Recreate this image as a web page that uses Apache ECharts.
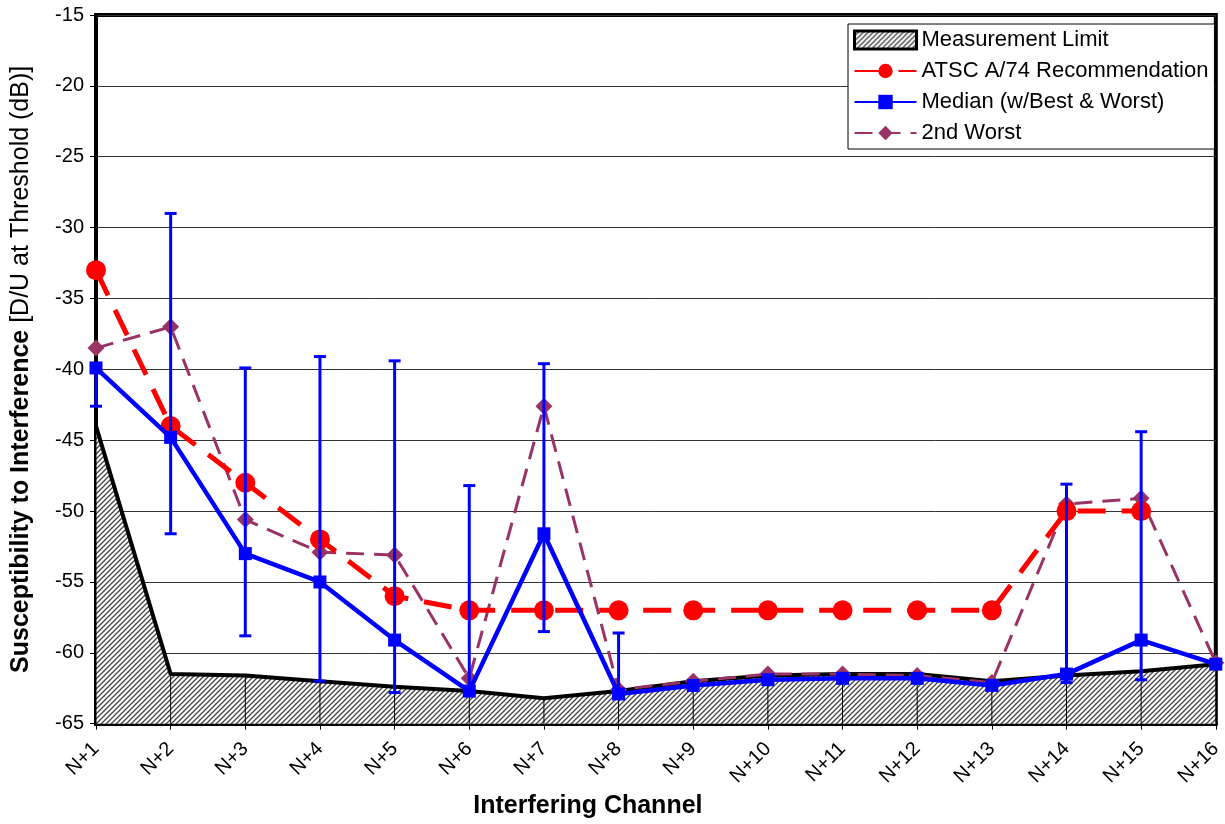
<!DOCTYPE html>
<html>
<head>
<meta charset="utf-8">
<script src="https://cdn.jsdelivr.net/npm/echarts@6/dist/echarts.min.js"></script>
<style>
  html, body { margin: 0; padding: 0; background: #fff; }
  #chart { width: 1225px; height: 824px; }
</style>
</head>
<body>
<div id="chart"></div>
<script>
  var categories = ['N+1', 'N+2', 'N+3', 'N+4', 'N+5', 'N+6', 'N+7', 'N+8',
    'N+9', 'N+10', 'N+11', 'N+12', 'N+13', 'N+14', 'N+15', 'N+16']
  var yTicks = [-65, -60, -55, -50, -45, -40, -35, -30, -25, -20, -15]

  var limitValues = [-44.0, -61.5, -61.6, -62.0, -62.4, -62.7, -63.2, -62.7,
    -62.0, -61.6, -61.5, -61.5, -62.0, -61.6, -61.3, -60.8]
  var atscValues = [-33, -44, -48, -52, -56, -57, -57, -57,
    -57, -57, -57, -57, -57, -50, -50, '-']
  var medianValues = [-39.9, -44.8, -53.0, -55.0, -59.1, -62.7, -51.6, -62.9,
    -62.3, -61.9, -61.8, -61.8, -62.3, -61.5, -59.1, -60.8]
  var bestValues = [-39.9, -29.0, -39.9, -39.1, -39.4, -48.2, -39.6, -58.6,
    null, null, null, null, null, -48.1, -44.4, null]
  var worstValues = [-42.6, -51.6, -58.8, -62.0, -62.8, -62.8, -58.5, -63.0,
    null, null, null, null, null, -62.1, -61.9, null]
  var secondWorstValues = [-38.5, -37.0, -50.6, -52.9, -53.1, -61.8, -42.6, -62.6,
    -62.0, -61.5, -61.5, -61.6, -62.1, -49.5, -49.1, -60.7]

  // hatch pattern for the measurement limit area
  function makeHatch() {
    var c = document.createElement('canvas')
    c.width = 5
    c.height = 5
    var ctx = c.getContext('2d')
    ctx.fillStyle = '#fff'
    ctx.fillRect(0, 0, 5, 5)
    ctx.strokeStyle = '#444'
    ctx.lineWidth = 1.3
    ctx.beginPath()
    ctx.moveTo(-1, 6); ctx.lineTo(6, -1)
    ctx.moveTo(-1, 1); ctx.lineTo(1, -1)
    ctx.moveTo(4, 6); ctx.lineTo(6, 4)
    ctx.stroke()
    return c
  }
  var hatch = { image: makeHatch(), repeat: 'repeat' }

  var errorData = []
  for (var i = 0; i < categories.length; i++) {
    if (bestValues[i] !== null) errorData.push([i, bestValues[i], worstValues[i]])
  }
  var dropData = limitValues.map(function (v, i) { return [i, v] })

  var chart = echarts.init(document.getElementById('chart'))
  var option = {
    animation: false,
    textStyle: { fontFamily: 'Arial, "Liberation Sans", sans-serif' },
    grid: {
      left: 96, right: 6, top: 15, bottom: 97,
      show: true, borderColor: '#000', borderWidth: 4
    },
    legend: {
      orient: 'vertical',
      left: 848, top: 24,
      padding: [5, 6, 5, 5],
      backgroundColor: '#fff',
      borderColor: '#000',
      borderWidth: 1,
      itemGap: 9,
      itemWidth: 62,
      itemHeight: 18,
      textStyle: { fontSize: 22, color: '#000' },
      data: [
        { name: 'Measurement Limit', icon: 'rect',
          itemStyle: { color: hatch, borderColor: '#000', borderWidth: 3 } },
        { name: 'ATSC A/74 Recommendation' },
        { name: 'Median (w/Best & Worst)' },
        { name: '2nd Worst' }
      ]
    },
    xAxis: {
      type: 'category',
      data: categories,
      boundaryGap: false,
      name: 'Interfering Channel',
      nameLocation: 'middle',
      nameGap: 70,
      nameTextStyle: { fontSize: 25, fontWeight: 'bold', color: '#000', padding: [0, 136, 0, 0] },
      axisLine: { lineStyle: { color: '#000', width: 4 } },
      axisTick: { show: true, alignWithLabel: true, length: 6, lineStyle: { color: '#000', width: 1 } },
      axisLabel: { rotate: 45, fontSize: 20, color: '#000', margin: 22, interval: 0 },
      splitLine: { show: false }
    },
    yAxis: {
      type: 'value',
      min: yTicks[0],
      max: yTicks[yTicks.length - 1],
      interval: 5,
      name: '{b|Susceptibility to Interference\u00a0}{n|[D/U at Threshold (dB)]}',
      nameLocation: 'middle',
      nameGap: 62,
      nameTextStyle: {
        color: '#000',
        rich: {
          b: { fontSize: 25, fontWeight: 'bold', color: '#000' },
          n: { fontSize: 25, color: '#000' }
        }
      },
      axisLine: { show: true, lineStyle: { color: '#000', width: 4 } },
      axisTick: { show: true, length: 6, lineStyle: { color: '#000', width: 1 } },
      axisLabel: { fontSize: 20, color: '#000', margin: 12 },
      splitLine: { lineStyle: { color: '#333', width: 1 } }
    },
    series: [
      {
        name: 'Measurement Limit',
        type: 'line',
        data: limitValues,
        symbol: 'none',
        lineStyle: { color: '#000', width: 4 },
        itemStyle: { color: '#000' },
        areaStyle: { origin: 'start', color: hatch, opacity: 1 },
        z: 1
      },
      {
        name: 'drop',
        type: 'custom',
        data: dropData,
        encode: { x: 0, y: 1 },
        silent: true,
        z: 2,
        renderItem: function (params, api) {
          var top = api.coord([api.value(0), api.value(1)])
          var bottom = api.coord([api.value(0), yTicks[0]])
          return {
            type: 'line',
            shape: { x1: top[0], y1: top[1], x2: bottom[0], y2: bottom[1] },
            style: { stroke: '#000', lineWidth: 1 }
          }
        }
      },
      {
        name: '2nd Worst',
        type: 'line',
        data: secondWorstValues,
        symbol: 'diamond',
        symbolSize: 17,
        lineStyle: { color: '#993366', width: 3, type: [18, 10] },
        itemStyle: { color: '#993366' },
        z: 3
      },
      {
        name: 'ATSC A/74 Recommendation',
        type: 'line',
        data: atscValues,
        symbol: 'circle',
        symbolSize: 20,
        lineStyle: { color: '#ff0000', width: 5, type: [28, 16] },
        itemStyle: { color: '#ff0000' },
        z: 4
      },
      {
        name: 'errors',
        type: 'custom',
        data: errorData,
        encode: { x: 0, y: [1, 2] },
        silent: true,
        z: 5,
        renderItem: function (params, api) {
          var hi = api.coord([api.value(0), api.value(1)])
          var lo = api.coord([api.value(0), api.value(2)])
          var w = 6
          var st = { stroke: '#0000ff', lineWidth: 3 }
          return {
            type: 'group',
            children: [
              { type: 'line', shape: { x1: hi[0], y1: hi[1], x2: lo[0], y2: lo[1] }, style: st },
              { type: 'line', shape: { x1: hi[0] - w, y1: hi[1], x2: hi[0] + w, y2: hi[1] }, style: st },
              { type: 'line', shape: { x1: lo[0] - w, y1: lo[1], x2: lo[0] + w, y2: lo[1] }, style: st }
            ]
          }
        }
      },
      {
        name: 'Median (w/Best & Worst)',
        type: 'line',
        data: medianValues,
        symbol: 'rect',
        symbolSize: 13,
        lineStyle: { color: '#0000ff', width: 4.5 },
        itemStyle: { color: '#0000ff' },
        z: 6
      }
    ]
  }
  chart.setOption(option)
</script>
</body>
</html>
